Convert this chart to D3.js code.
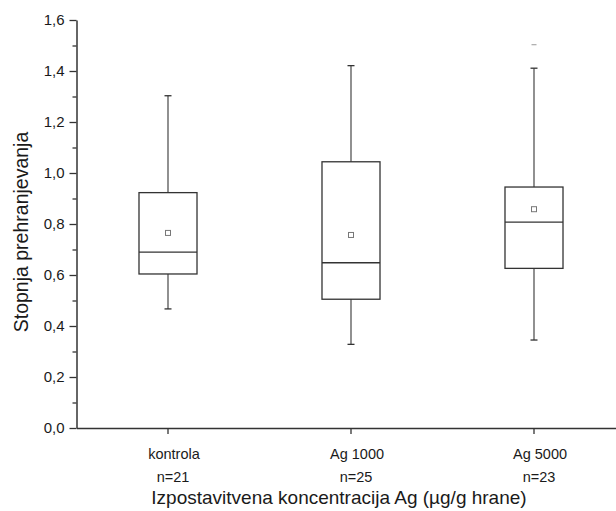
<!DOCTYPE html>
<html>
<head>
<meta charset="utf-8">
<script src="https://cdn.jsdelivr.net/npm/d3@7"></script>
<style>
  body { margin: 0; background: #fff; }
  text { font-family: "Liberation Sans", Arial, sans-serif; fill: #1a1a1a; }
</style>
</head>
<body>
<div id="chart"></div>
<script>
// box plot data
const categories = ["kontrola", "Ag 1000", "Ag 5000"];
const sampleSizes = [21, 25, 23];
const whiskerLow = [0.467, 0.328, 0.345];
const q1 = [0.604, 0.505, 0.626];
const medians = [0.690, 0.648, 0.807];
const q3 = [0.923, 1.044, 0.945];
const whiskerHigh = [1.303, 1.421, 1.411];
const means = [0.765, 0.757, 0.858];
const maxima = [null, null, 1.503];
const yMajor = [0, 0.2, 0.4, 0.6, 0.8, 1.0, 1.2, 1.4, 1.6];
const yMinor = [0.1, 0.3, 0.5, 0.7, 0.9, 1.1, 1.3, 1.5];

const width = 616, height = 511;

const rows = categories.map(function(c, i) {
  return {
    cat: c, n: sampleSizes[i], lo: whiskerLow[i], q1: q1[i], med: medians[i],
    q3: q3[i], hi: whiskerHigh[i], mean: means[i], max: maxima[i]
  };
});

const svg = d3.select("#chart").append("svg")
  .attr("width", width)
  .attr("height", height);

const x = d3.scaleBand().domain(categories).range([76.5, 625.5]).padding(0);
const y = d3.scaleLinear().domain([0, 1.6]).range([428, 20]);
const cx = function(c) { return x(c) + x.bandwidth() / 2; };
const boxW = x.bandwidth() * 0.317;

const comma = function(d) { return d3.format(".1f")(d).replace(".", ","); };

// y axis: minor ticks first, then major ticks with labels
svg.append("g")
  .attr("transform", "translate(76.5,0)")
  .call(d3.axisLeft(y).tickValues(yMinor).tickSize(4).tickSizeOuter(0).tickFormat(""))
  .call(g => g.select(".domain").remove())
  .selectAll("line").attr("stroke", "#333").attr("stroke-width", 1.3);

const yAxis = svg.append("g")
  .attr("transform", "translate(76.5,0)")
  .call(d3.axisLeft(y).tickValues(yMajor).tickSize(7).tickSizeOuter(0).tickPadding(5).tickFormat(comma));
yAxis.select(".domain").attr("stroke", "#333").attr("stroke-width", 1.5);
yAxis.selectAll(".tick line").attr("stroke", "#333").attr("stroke-width", 1.3);
yAxis.selectAll(".tick text")
  .style("font-family", '"Liberation Sans", Arial, sans-serif')
  .style("font-size", "15px").attr("fill", "#1a1a1a");

// x axis
const xAxis = svg.append("g")
  .attr("transform", "translate(0,428)")
  .call(d3.axisBottom(x).tickSize(6).tickSizeOuter(0).tickFormat(""));
xAxis.select(".domain").attr("stroke", "#333").attr("stroke-width", 1.5);
xAxis.selectAll(".tick line").attr("stroke", "#333").attr("stroke-width", 1.3);

// two-line category labels
const lab = svg.append("g").selectAll("text.cat")
  .data(rows).enter().append("text")
  .attr("class", "cat")
  .attr("text-anchor", "middle")
  .style("font-size", "14.5px");
lab.append("tspan")
  .attr("x", d => cx(d.cat) + 6)
  .attr("y", 459)
  .text(d => d.cat);
lab.append("tspan")
  .attr("x", d => cx(d.cat) + 5)
  .attr("y", 482)
  .text(d => "n=" + d.n);

// axis titles
svg.append("text")
  .attr("x", 339)
  .attr("y", 504)
  .attr("text-anchor", "middle")
  .style("font-size", "19px")
  .text("Izpostavitvena koncentracija Ag (\u00b5g/g hrane)");

svg.append("text")
  .attr("transform", "translate(28,232) rotate(-90)")
  .attr("text-anchor", "middle")
  .style("font-size", "19.5px")
  .text("Stopnja prehranjevanja");

// boxes
const box = svg.append("g").selectAll("g.box")
  .data(rows).enter().append("g").attr("class", "box");

// whiskers
box.append("line")
  .attr("x1", d => cx(d.cat)).attr("x2", d => cx(d.cat))
  .attr("y1", d => y(d.q3)).attr("y2", d => y(d.hi))
  .attr("stroke", "#555").attr("stroke-width", 1.3);
box.append("line")
  .attr("x1", d => cx(d.cat)).attr("x2", d => cx(d.cat))
  .attr("y1", d => y(d.q1)).attr("y2", d => y(d.lo))
  .attr("stroke", "#555").attr("stroke-width", 1.3);
// caps
box.append("line")
  .attr("x1", d => cx(d.cat) - 3.5).attr("x2", d => cx(d.cat) + 3.5)
  .attr("y1", d => y(d.hi)).attr("y2", d => y(d.hi))
  .attr("stroke", "#333").attr("stroke-width", 1.3);
box.append("line")
  .attr("x1", d => cx(d.cat) - 3.5).attr("x2", d => cx(d.cat) + 3.5)
  .attr("y1", d => y(d.lo)).attr("y2", d => y(d.lo))
  .attr("stroke", "#333").attr("stroke-width", 1.3);

box.append("rect")
  .attr("x", d => cx(d.cat) - boxW / 2)
  .attr("y", d => y(d.q3))
  .attr("width", boxW)
  .attr("height", d => y(d.q1) - y(d.q3))
  .attr("fill", "none")
  .attr("stroke", "#333")
  .attr("stroke-width", 1.3);

box.append("line")
  .attr("x1", d => cx(d.cat) - boxW / 2).attr("x2", d => cx(d.cat) + boxW / 2)
  .attr("y1", d => y(d.med)).attr("y2", d => y(d.med))
  .attr("stroke", "#333").attr("stroke-width", 1.3);

// mean marker
box.append("rect")
  .attr("x", d => cx(d.cat) - 2.5)
  .attr("y", d => y(d.mean) - 2.5)
  .attr("width", 5).attr("height", 5)
  .attr("fill", "#fff")
  .attr("stroke", "#777")
  .attr("stroke-width", 1);

// max marker where it sits above the whisker
box.filter(d => d.max != null).append("line")
  .attr("x1", d => cx(d.cat) - 2.5).attr("x2", d => cx(d.cat) + 2.5)
  .attr("y1", d => y(d.max)).attr("y2", d => y(d.max))
  .attr("stroke", "#999").attr("stroke-width", 1);
</script>
</body>
</html>
